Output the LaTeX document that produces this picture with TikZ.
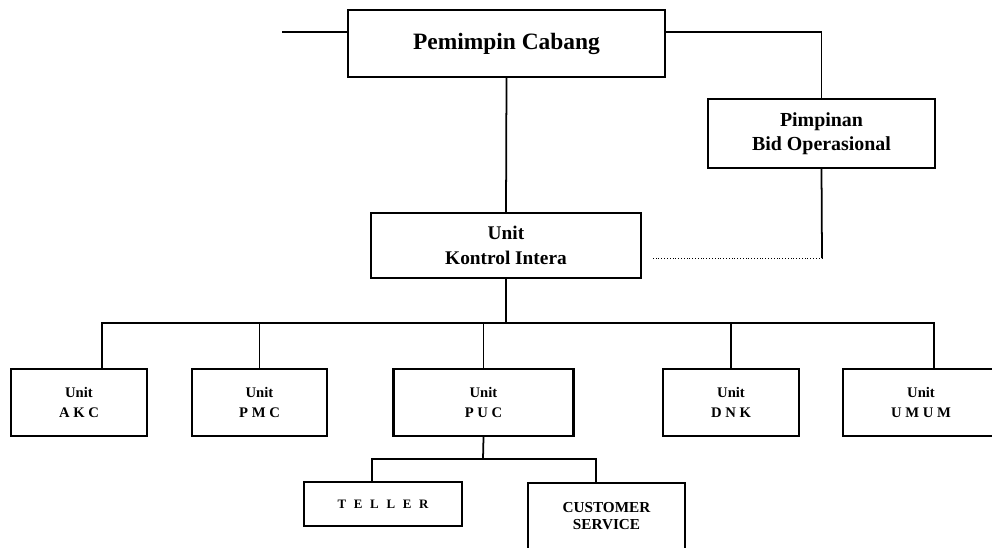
\documentclass[tikz,border=0pt]{standalone}
\usepackage{fontspec}
\setmainfont{Liberation Serif}
\begin{document}
\begin{tikzpicture}[x=0.03cm,y=-0.03cm,
  unitbox/.style={draw,line width=1.8pt,align=center,inner sep=0pt},
  link/.style={line width=1.5pt}]
  \useasboundingbox (0,0) rectangle (992,547);

  \node[unitbox,minimum width=9.51cm,minimum height=2.01cm,font=\bfseries\fontsize{20}{23}\selectfont] (pc) at (506.5,43.5) {Pemimpin Cabang};
  \node[unitbox,minimum width=6.81cm,minimum height=2.07cm,font=\bfseries\fontsize{17}{20}\selectfont] (pbo) at (821.5,133.5) {Pimpinan\\Bid Operasional};
  \node[unitbox,minimum width=8.1cm,minimum height=1.95cm,font=\bfseries\fontsize{16.5}{21}\selectfont] (uki) at (506,245.5) {Unit\\Kontrol Intera};

  \node[unitbox,minimum width=4.08cm,minimum height=2.01cm,font=\bfseries\fontsize{12.5}{17}\selectfont] (akc) at (79,402.5) {Unit\\A K C};
  \node[unitbox,minimum width=4.05cm,minimum height=2.01cm,font=\bfseries\fontsize{12.5}{17}\selectfont] (pmc) at (259.5,402.5) {Unit\\P M C};
  \node[unitbox,minimum width=5.4cm,minimum height=2.01cm,font=\bfseries\fontsize{12.5}{17}\selectfont] (puc) at (483.5,402.5) {Unit\\P U C};
  \node[unitbox,minimum width=4.08cm,minimum height=2.01cm,font=\bfseries\fontsize{12.5}{17}\selectfont] (dnk) at (731,402.5) {Unit\\D N K};
  \node[unitbox,minimum width=4.68cm,minimum height=2.01cm,font=\bfseries\fontsize{12.5}{17}\selectfont] (umum) at (921,402.5) {Unit\\U M U M};

  \node[unitbox,minimum width=4.74cm,minimum height=1.32cm,font=\bfseries\fontsize{11}{13}\selectfont] (teller) at (383,504) {T\hspace{0.6em}E\hspace{0.6em}L\hspace{0.6em}L\hspace{0.6em}E\hspace{0.6em}R};
  \node[unitbox,minimum width=4.71cm,minimum height=1.98cm,font=\bfseries\fontsize{13}{15}\selectfont] (cs) at (606.5,516) {CUSTOMER\\SERVICE};

  \coordinate (lftend) at (282,32);
  \coordinate (dotend) at (822,258);
  \coordinate (bus) at (506,323);
  \coordinate (akctop) at (102,369);
  \coordinate (umumtop) at (934,369);
  \coordinate (subbus) at (483,459);
  \coordinate (tellertop) at (372,482);
  \coordinate (cstop) at (596,483);

  \draw[link] (lftend) -- (lftend -| pc.west);
  \draw[link] (pc.east |- lftend) -| (pbo.north);
  \draw[link] (pc.south) -- (uki.north);
  \draw[link] (pbo.south) -- (dotend);
  \draw[thin,dotted,shorten >=0.33cm] (dotend) -- (uki.east |- dotend);

  \draw[link] (uki.south) -- (bus);
  \draw[link] (akctop) -- (akctop |- bus) -- (umumtop |- bus) -- (umumtop);
  \foreach \n in {pmc,puc,dnk}
    \draw[link] (\n.north) -- (\n.north |- bus);

  \draw[link] (puc.south) -- (subbus);
  \draw[link] (tellertop) -- (tellertop |- subbus) -- (cstop |- subbus) -- (cstop);
\end{tikzpicture}
\end{document}
